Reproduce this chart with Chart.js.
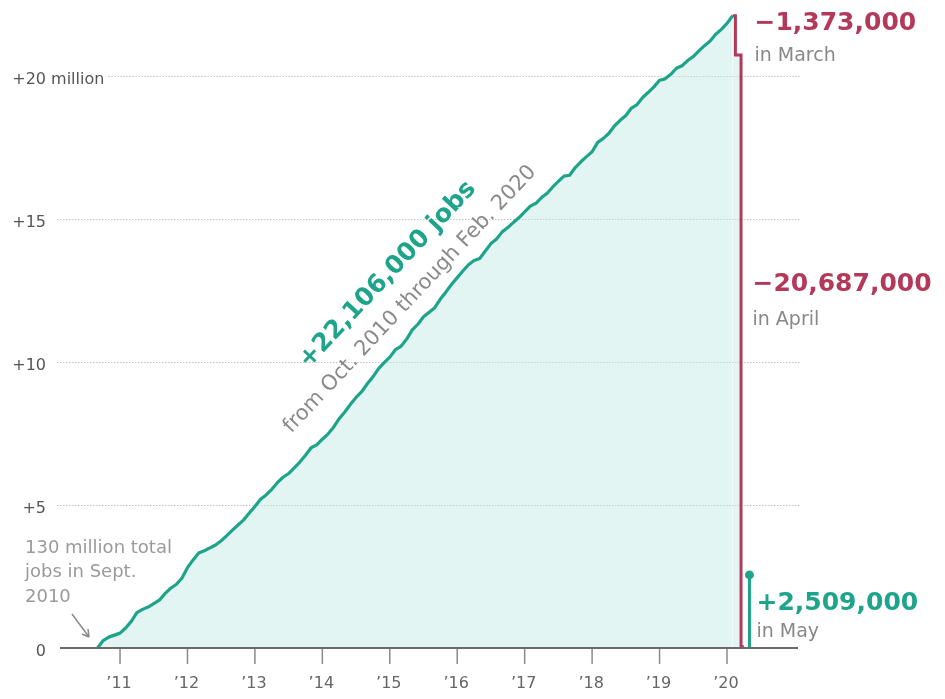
<!DOCTYPE html>
<html>
<head>
<meta charset="utf-8">
<script src="https://cdn.jsdelivr.net/npm/chart.js@4/dist/chart.umd.min.js"></script>
<style>
  html, body { margin: 0; padding: 0; background: #fff; }
  canvas { display: block; }
</style>
</head>
<body>
<canvas id="c" width="945" height="699"></canvas>
<script>
// ---- DATA ----
// cumulative change in nonfarm jobs (millions) since Sept. 2010, monthly Sept. 2010 .. Feb. 2020
const startYear = 2010;
const startMonth = 9;
const jobsGain = [
  0, 0.26, 0.38, 0.45,                                                        // 2010 Sep-Dec
  0.52, 0.70, 0.93, 1.24, 1.35, 1.43, 1.55, 1.67, 1.90, 2.09, 2.22, 2.44,      // 2011
  2.81, 3.08, 3.32, 3.40, 3.50, 3.60, 3.75, 3.93, 4.12, 4.30, 4.48, 4.72,      // 2012
  4.95, 5.20, 5.35, 5.55, 5.78, 5.97, 6.10, 6.30, 6.50, 6.74, 7.00, 7.10,      // 2013
  7.30, 7.48, 7.72, 8.02, 8.25, 8.52, 8.76, 8.96, 9.24, 9.48, 9.77, 9.98,      // 2014
  10.17, 10.43, 10.55, 10.80, 11.12, 11.32, 11.58, 11.74, 11.90, 12.20, 12.45, 12.72, // 2015
  12.95, 13.18, 13.40, 13.55, 13.62, 13.88, 14.14, 14.30, 14.55, 14.70, 14.88, 15.05, // 2016
  15.25, 15.45, 15.55, 15.75, 15.90, 16.12, 16.32, 16.50, 16.53, 16.80, 17.00, 17.18, // 2017
  17.35, 17.68, 17.82, 18.00, 18.26, 18.45, 18.62, 18.88, 19.00, 19.25, 19.43, 19.62, // 2018
  19.85, 19.90, 20.06, 20.27, 20.36, 20.54, 20.68, 20.88, 21.06, 21.22, 21.46, 21.63, // 2019
  21.84, 22.106                                                                // 2020 Jan-Feb
];
// 2020 monthly changes (millions): March, April, May
const covidYear = 2020;
const covidMonthNums = [3, 4, 5];
const covidChange = [-1.373, -20.687, 2.509];

const xTickYears = [2011, 2012, 2013, 2014, 2015, 2016, 2017, 2018, 2019, 2020];
const xTickLabels = ['\u201911', '\u201912', '\u201913', '\u201914', '\u201915', '\u201916', '\u201917', '\u201918', '\u201919', '\u201920'];
const yTickValues = [0, 5, 10, 15, 20];
const yTickLabels = ['0', '+5', '+10', '+15', '+20'];
const yTopSuffix = ' million';

// ---- BUILD ----
const TEAL = '#1fa48c';
const RED = '#b3395a';
const FILL = 'rgba(190,232,226,0.45)';
const FONT = '"DejaVu Sans", sans-serif';

const toX = (y, m) => y + (m - 1) / 12;
const mainData = jobsGain.map((v, i) => {
  const mi = startMonth - 1 + i;
  return { x: startYear + mi / 12, y: v };
});
const febLevel = jobsGain[jobsGain.length - 1];
const marLevel = febLevel + covidChange[0];
const aprLevel = marLevel + covidChange[1];
const mayLevel = aprLevel + covidChange[2];
const redData = [
  { x: toX(2020, 2), y: febLevel },
  { x: toX(covidYear, covidMonthNums[0]), y: marLevel },
  { x: toX(covidYear, covidMonthNums[1]), y: aprLevel }
];
const greenData = [
  { x: toX(covidYear, covidMonthNums[2]), y: 0 },
  { x: toX(covidYear, covidMonthNums[2]), y: mayLevel }
];

const decor = {
  id: 'decor',
  beforeDatasetsDraw(chart) {
    const ctx = chart.ctx, ys = chart.scales.y;
    ctx.save();
    ctx.font = '16px ' + FONT;
    ctx.strokeStyle = '#c4c4c4';
    ctx.lineWidth = 1;
    ctx.setLineDash([1.5, 1.5]);
    yTickValues.forEach((v, i) => {
      if (v === 0) return;
      const y = Math.round(ys.getPixelForValue(v)) + 0.5;
      let start = 57;
      if (i === yTickValues.length - 1) start = 46 + ctx.measureText(yTopSuffix).width + 4;
      ctx.beginPath();
      ctx.moveTo(start, y);
      ctx.lineTo(800, y);
      ctx.stroke();
    });
    ctx.restore();
  },
  afterDatasetsDraw(chart) {
    const ctx = chart.ctx, xs = chart.scales.x, ys = chart.scales.y;
    const y0 = ys.getPixelForValue(0);
    ctx.save();
    // x axis line
    ctx.strokeStyle = '#6a6a6a';
    ctx.lineWidth = 2;
    ctx.beginPath();
    ctx.moveTo(chart.chartArea.left, y0);
    ctx.lineTo(chart.chartArea.right, y0);
    ctx.stroke();
    // ticks + labels
    ctx.strokeStyle = '#8a8a8a';
    ctx.lineWidth = 1.5;
    ctx.fillStyle = '#666';
    ctx.font = '16px ' + FONT;
    ctx.textAlign = 'center';
    ctx.textBaseline = 'middle';
    xTickYears.forEach((yr, i) => {
      const x = xs.getPixelForValue(yr);
      ctx.beginPath();
      ctx.moveTo(x, y0 + 1);
      ctx.lineTo(x, y0 + 16);
      ctx.stroke();
      ctx.fillText(xTickLabels[i], x - 1, y0 + 36);
    });
    // y labels
    ctx.fillStyle = '#555';
    yTickValues.forEach((v, i) => {
      const y = ys.getPixelForValue(v) + 4;
      ctx.textAlign = 'right';
      ctx.fillText(yTickLabels[i], 46, y);
      if (i === yTickValues.length - 1) {
        ctx.textAlign = 'left';
        ctx.fillText(yTopSuffix, 46, y);
      }
    });
    // note at start
    ctx.fillStyle = '#9a9a9a';
    ctx.font = '18px ' + FONT;
    ctx.textAlign = 'left';
    ['130 million total', 'jobs in Sept.', '2010'].forEach((t, i) => {
      ctx.fillText(t, 25, 548 + i * 24.5);
    });
    // arrow
    ctx.strokeStyle = '#8a8a8a';
    ctx.lineWidth = 1.5;
    ctx.beginPath();
    ctx.moveTo(72, 614);
    ctx.lineTo(89, 637);
    ctx.moveTo(89, 637);
    ctx.lineTo(88, 629);
    ctx.moveTo(89, 637);
    ctx.lineTo(82, 634);
    ctx.stroke();

    // right annotations
    const ax = xs.getPixelForValue(toX(covidYear, 5)) + 7;
    ctx.textAlign = 'left';
    ctx.fillStyle = RED;
    ctx.font = 'bold 25px ' + FONT;
    ctx.fillText('\u22121,373,000', ax - 2, ys.getPixelForValue(febLevel) + 8);
    ctx.fillText('\u221220,687,000', ax - 4, ys.getPixelForValue(12.7));
    ctx.fillStyle = TEAL;
    ctx.fillText('+2,509,000', ax, ys.getPixelForValue(1.56));
    ctx.fillStyle = '#888';
    ctx.font = '19px ' + FONT;
    ctx.fillText('in March', ax - 2, ys.getPixelForValue(marLevel) + 1);
    ctx.fillText('in April', ax - 4, ys.getPixelForValue(11.48));
    ctx.fillText('in May', ax, ys.getPixelForValue(0.55));

    // rotated labels
    const ang = -46.8 * Math.PI / 180;
    ctx.translate(xs.getPixelForValue(2014.97), ys.getPixelForValue(13.05));
    ctx.rotate(ang);
    ctx.textAlign = 'center';
    ctx.fillStyle = TEAL;
    ctx.font = 'bold 25px ' + FONT;
    ctx.fillText('+22,106,000 jobs', 0, 0);
    ctx.setTransform(1, 0, 0, 1, 0, 0);
    ctx.translate(xs.getPixelForValue(2015.30), ys.getPixelForValue(12.19));
    ctx.rotate(ang);
    ctx.fillStyle = '#8a8a8a';
    ctx.font = '21px ' + FONT;
    ctx.fillText('from Oct. 2010 through Feb. 2020', 0, 0);
    ctx.restore();
  }
};

new Chart(document.getElementById('c'), {
  type: 'line',
  data: {
    datasets: [
      {
        data: mainData,
        borderColor: TEAL,
        borderWidth: 3.2,
        backgroundColor: FILL,
        fill: 'origin',
        pointRadius: 0,
        tension: 0,
        borderJoinStyle: 'round'
      },
      {
        data: redData,
        borderColor: RED,
        borderWidth: 3,
        backgroundColor: FILL,
        fill: 'origin',
        stepped: 'middle',
        pointRadius: 0,
        tension: 0
      },
      {
        data: greenData,
        borderColor: TEAL,
        borderWidth: 3,
        fill: false,
        pointRadius: [0, 4.5],
        pointBackgroundColor: TEAL,
        pointBorderColor: TEAL,
        pointBorderWidth: 0,
        tension: 0
      }
    ]
  },
  options: {
    responsive: false,
    animation: false,
    devicePixelRatio: 1,
    layout: { padding: { left: 60, right: 147, top: 0, bottom: 51 } },
    scales: {
      x: { type: 'linear', display: false, min: 2010.11, max: 2021.053 },
      y: { type: 'linear', display: false, min: 0, max: 22.5 }
    },
    plugins: { legend: { display: false }, tooltip: { enabled: false } }
  },
  plugins: [decor]
});
</script>
</body>
</html>
